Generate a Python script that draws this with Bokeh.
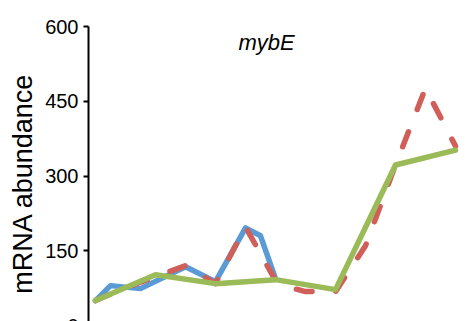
from bokeh.plotting import figure
from bokeh.models import Range1d, FixedTicker, Label
from bokeh.embed import file_html
from bokeh.resources import INLINE

# mybE expression time course (hours of development)
blue_hours = [0, 1, 3, 6, 8, 10, 11, 12]
blue_values = [50, 80, 74, 118, 88, 196, 180, 94]

red_hours = [0, 2, 4, 6, 8, 10, 12, 13, 14, 16, 18, 20, 22, 24]
red_values = [50, 76, 98, 120, 84, 198, 90, 76, 68, 68, 160, 322, 476, 360]

green_hours = [0, 4, 8, 12, 16, 20, 24]
green_values = [50, 102, 84, 92, 72, 322, 352]

y_ticks = [0, 150, 300, 450, 600]
gene_name = "mybE"
y_label = "mRNA abundance"

FONT = "Liberation Sans"

p = figure(
    width=465,
    height=340,
    output_backend="svg",
    toolbar_location=None,
    x_range=Range1d(-0.467, 24.667),
    y_range=Range1d(-30.1, 600),
    x_axis_location=None,
    min_border_left=88,
    min_border_right=0,
    min_border_top=26,
    min_border_bottom=0,
)
p.outline_line_color = None
p.background_fill_color = "white"
p.border_fill_color = "white"
p.grid.visible = False

ax = p.yaxis[0]
ax.ticker = FixedTicker(ticks=y_ticks)
ax.axis_line_width = 2
ax.axis_line_color = "black"
ax.major_tick_line_width = 2
ax.major_tick_line_color = "black"
ax.major_tick_out = 5
ax.major_tick_in = 0
ax.minor_tick_line_color = None
ax.major_label_text_font = FONT
ax.major_label_text_font_size = "20px"
ax.major_label_text_color = "black"
ax.major_label_standoff = 5
ax.axis_label = y_label
ax.axis_label_text_font = FONT
ax.axis_label_text_font_size = "27px"
ax.axis_label_text_font_style = "normal"
ax.axis_label_text_color = "black"
ax.axis_label_standoff = 4

LW = 5.5
p.line(blue_hours, blue_values, line_color="#5B9BD5", line_width=LW,
       line_join="round", line_cap="round")
p.line(red_hours, red_values, line_color="#CF5F58", line_width=LW,
       line_dash="16 24", line_join="round", line_cap="round")
p.line(green_hours, green_values, line_color="#9BBB59", line_width=LW,
       line_join="round", line_cap="round")

p.add_layout(Label(x=11.4, y=568, text=gene_name, text_font=FONT,
                   text_font_size="22px", text_font_style="italic",
                   text_align="center", text_baseline="middle",
                   text_color="black"))

html = file_html(p, INLINE, title=gene_name)
html = html.replace("</head>", "<style>html, body { margin: 0; overflow: hidden; }</style></head>", 1)
open("out.html", "w").write(html)
